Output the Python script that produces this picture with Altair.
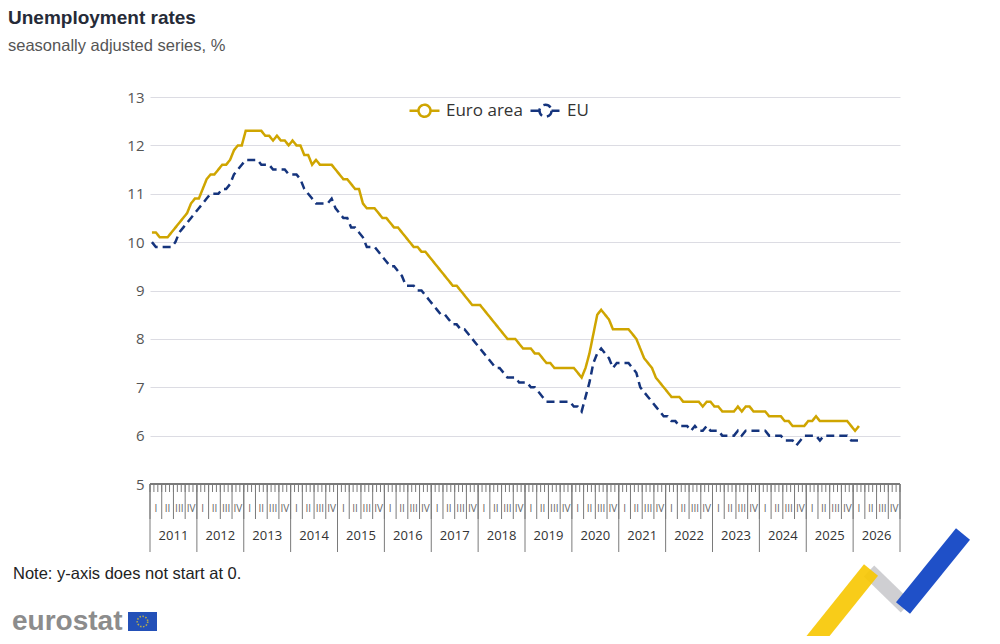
import altair as alt
import pandas as pd

# ---------------- data ----------------
start_year = 2011
years = list(range(2011, 2027))
quarter_labels = ["I", "II", "III", "IV"]
y_ticks = [5, 6, 7, 8, 9, 10, 11, 12, 13]
series_names = ["Euro area", "EU"]

ea_values = [
    10.2, 10.2, 10.1, 10.1, 10.1, 10.2, 10.3, 10.4, 10.5, 10.6, 10.8, 10.9,  # 2011
    10.9, 11.1, 11.3, 11.4, 11.4, 11.5, 11.6, 11.6, 11.7, 11.9, 12.0, 12.0,  # 2012
    12.3, 12.3, 12.3, 12.3, 12.3, 12.2, 12.2, 12.1, 12.2, 12.1, 12.1, 12.0,  # 2013
    12.1, 12.0, 12.0, 11.8, 11.8, 11.6, 11.7, 11.6, 11.6, 11.6, 11.6, 11.5,  # 2014
    11.4, 11.3, 11.3, 11.2, 11.1, 11.1, 10.8, 10.7, 10.7, 10.7, 10.6, 10.5,  # 2015
    10.5, 10.4, 10.3, 10.3, 10.2, 10.1, 10.0, 9.9, 9.9, 9.8, 9.8, 9.7,       # 2016
    9.6, 9.5, 9.4, 9.3, 9.2, 9.1, 9.1, 9.0, 8.9, 8.8, 8.7, 8.7,              # 2017
    8.7, 8.6, 8.5, 8.4, 8.3, 8.2, 8.1, 8.0, 8.0, 8.0, 7.9, 7.8,              # 2018
    7.8, 7.8, 7.7, 7.7, 7.6, 7.5, 7.5, 7.4, 7.4, 7.4, 7.4, 7.4,              # 2019
    7.4, 7.3, 7.2, 7.4, 7.7, 8.1, 8.5, 8.6, 8.5, 8.4, 8.2, 8.2,              # 2020
    8.2, 8.2, 8.2, 8.1, 8.0, 7.8, 7.6, 7.5, 7.4, 7.2, 7.1, 7.0,              # 2021
    6.9, 6.8, 6.8, 6.8, 6.7, 6.7, 6.7, 6.7, 6.7, 6.6, 6.7, 6.7,              # 2022
    6.6, 6.6, 6.5, 6.5, 6.5, 6.5, 6.6, 6.5, 6.6, 6.6, 6.5, 6.5,              # 2023
    6.5, 6.5, 6.4, 6.4, 6.4, 6.4, 6.3, 6.3, 6.2, 6.2, 6.2, 6.2,              # 2024
    6.3, 6.3, 6.4, 6.3, 6.3, 6.3, 6.3, 6.3, 6.3, 6.3, 6.3, 6.2,              # 2025
    6.1, 6.2,                                                                # 2026
]

eu_values = [
    10.0, 9.9, 9.9, 9.9, 9.9, 9.9, 10.0, 10.2, 10.3, 10.4, 10.5, 10.6,       # 2011
    10.7, 10.8, 10.9, 11.0, 11.0, 11.0, 11.1, 11.1, 11.2, 11.4, 11.5, 11.6,  # 2012
    11.7, 11.7, 11.7, 11.7, 11.6, 11.6, 11.6, 11.5, 11.5, 11.5, 11.5, 11.4,  # 2013
    11.4, 11.4, 11.3, 11.1, 11.0, 10.9, 10.8, 10.8, 10.8, 10.8, 10.9, 10.7,  # 2014
    10.6, 10.5, 10.5, 10.3, 10.3, 10.2, 10.1, 9.9, 9.9, 9.9, 9.8, 9.7,       # 2015
    9.6, 9.5, 9.5, 9.4, 9.3, 9.1, 9.1, 9.1, 9.0, 9.0, 8.9, 8.8,              # 2016
    8.7, 8.6, 8.5, 8.5, 8.4, 8.3, 8.3, 8.2, 8.2, 8.1, 8.0, 7.9,              # 2017
    7.8, 7.7, 7.6, 7.5, 7.4, 7.4, 7.3, 7.2, 7.2, 7.2, 7.1, 7.1,              # 2018
    7.1, 7.0, 7.0, 6.9, 6.8, 6.7, 6.7, 6.7, 6.7, 6.7, 6.7, 6.7,              # 2019
    6.6, 6.6, 6.5, 6.8, 7.1, 7.5, 7.7, 7.8, 7.7, 7.6, 7.4, 7.5,              # 2020
    7.5, 7.5, 7.5, 7.4, 7.3, 7.0, 6.9, 6.8, 6.7, 6.6, 6.5, 6.4,              # 2021
    6.4, 6.3, 6.3, 6.2, 6.2, 6.2, 6.1, 6.2, 6.1, 6.1, 6.2, 6.1,              # 2022
    6.1, 6.1, 6.0, 6.0, 6.0, 6.0, 6.1, 6.0, 6.1, 6.1, 6.1, 6.1,              # 2023
    6.1, 6.1, 6.0, 6.0, 6.0, 6.0, 5.9, 5.9, 5.9, 5.8, 5.9, 6.0,              # 2024
    6.0, 6.0, 6.0, 5.9, 6.0, 6.0, 6.0, 6.0, 6.0, 6.0, 6.0, 5.9,              # 2025
    5.9, 5.9,                                                                # 2026
]

# ---------------- tables ----------------
n = len(ea_values)
t_mid = [start_year + (i + 0.5) / 12 for i in range(n)]
df = pd.DataFrame({
    "t": t_mid + t_mid,
    "value": ea_values + eu_values,
    "series": [series_names[0]] * n + [series_names[1]] * n,
})

n_months = len(years) * 12
month_df = pd.DataFrame({"t": [start_year + k / 12 for k in range(n_months + 1)]})
quarter_df = pd.DataFrame({"t": [start_year + k / 4 for k in range(len(years) * 4 + 1)]})
year_df = pd.DataFrame({"t": [y for y in years] + [years[-1] + 1]})
qlab_df = pd.DataFrame({
    "t": [y + (q + 0.5) / 4 for y in years for q in range(4)],
    "label": [quarter_labels[q] for y in years for q in range(4)],
})
ylab_df = pd.DataFrame({"t": [y + 0.5 for y in years], "label": [str(y) for y in years]})

W, H = 750, 387
GOLD = "#CFA500"
NAVY = "#15347D"
AX = "#7a7a7a"

xscale = alt.Scale(domain=[years[0], years[-1] + 1], nice=False, zero=False)
yscale = alt.Scale(domain=[y_ticks[0], y_ticks[-1]], nice=False, zero=False)

# legend symbol: short line with a hollow circle
sym_path = ("M-0.667,0H-0.067M0.733,0H1.333"
            "M0.733,0A0.4,0.4,0,1,1,-0.067,0A0.4,0.4,0,1,1,0.733,0")

legend = alt.Legend(
    title=None, orient="none", legendX=253, legendY=-3, direction="horizontal",
    symbolType=sym_path, symbolSize=900, symbolStrokeWidth=2.5, symbolFillColor="white",
    labelFontSize=17, labelColor="#333333", labelFont="Open Sans",
    labelOffset=10, columnPadding=1, padding=0,
)

lines = alt.Chart(df).mark_line(strokeWidth=2.5, strokeCap="butt").encode(
    x=alt.X("t:Q", scale=xscale, axis=None),
    y=alt.Y("value:Q", scale=yscale, axis=alt.Axis(
        values=y_ticks, title=None, domain=False, ticks=False, labelPadding=6,
        labelFontSize=15, labelColor="#555555", labelFont="Open Sans",
        gridColor="#dcdce3", gridWidth=1)),
    color=alt.Color("series:N", scale=alt.Scale(domain=series_names, range=[GOLD, NAVY]), legend=legend),
    strokeDash=alt.StrokeDash("series:N", scale=alt.Scale(domain=series_names, range=[[1, 0], [8, 5]]), legend=legend),
)

baseline = alt.Chart(month_df).mark_rule(color=AX, strokeWidth=1).encode(
    x=alt.value(0), x2=alt.value(W), y=alt.value(H)
)
month_ticks = alt.Chart(month_df).mark_rule(color=AX, strokeWidth=1).encode(
    x=alt.X("t:Q", scale=xscale, axis=None), y=alt.value(H), y2=alt.value(H + 8)
)
quarter_ticks = alt.Chart(quarter_df).mark_rule(color=AX, strokeWidth=1).encode(
    x=alt.X("t:Q", scale=xscale, axis=None), y=alt.value(H), y2=alt.value(H + 35)
)
year_ticks = alt.Chart(year_df).mark_rule(color=AX, strokeWidth=1).encode(
    x=alt.X("t:Q", scale=xscale, axis=None), y=alt.value(H), y2=alt.value(H + 68)
)
q_text = alt.Chart(qlab_df).mark_text(fontSize=10, color="#666666", font="Open Sans", baseline="middle").encode(
    x=alt.X("t:Q", scale=xscale, axis=None), y=alt.value(H + 25), text="label:N"
)
y_text = alt.Chart(ylab_df).mark_text(fontSize=13, color="#333333", font="Open Sans", baseline="middle").encode(
    x=alt.X("t:Q", scale=xscale, axis=None), y=alt.value(H + 52), text="label:N"
)

one = pd.DataFrame({"a": [0]})


def label(txt, x, y, size, color, weight="normal", font="Liberation Sans"):
    return alt.Chart(one).mark_text(
        text=txt, align="left", baseline="alphabetic", fontSize=size,
        color=color, fontWeight=weight, font=font
    ).encode(x=alt.value(x), y=alt.value(y))


title = label("Unemployment rates", -142, -73, 19, "#262b38", "bold")
subtitle = label("seasonally adjusted series, %", -142, -46, 16.5, "#555555")
note = label("Note: y-axis does not start at 0.", -137, 482, 16.5, "#222222")
logo = label("eurostat", -138, 533, 28, "#8c8c8c", "bold")

flag = alt.Chart(one).mark_rect(color="#2350b8").encode(
    x=alt.value(-22), x2=alt.value(7), y=alt.value(515), y2=alt.value(534)
)
stars = alt.Chart(one).mark_point(
    shape="circle", size=110, filled=False, color="#f4d21f", strokeWidth=1.6, strokeDash=[1.5, 1.5]
).encode(x=alt.value(-7.5), y=alt.value(524.5))

stripe_y = alt.Chart(one).mark_rule(color="#F7C600", strokeWidth=18, strokeCap="butt", opacity=0.9).encode(
    x=alt.value(660), x2=alt.value(721), y=alt.value(549), y2=alt.value(473)
)
stripe_g = alt.Chart(one).mark_rule(color="#cfcfd2", strokeWidth=15, strokeCap="butt").encode(
    x=alt.value(719), x2=alt.value(756), y=alt.value(474), y2=alt.value(510)
)
stripe_b = alt.Chart(one).mark_rule(color="#1f50c8", strokeWidth=18, strokeCap="butt").encode(
    x=alt.value(753), x2=alt.value(813), y=alt.value(511), y2=alt.value(437)
)

chart = alt.layer(
    lines, baseline, month_ticks, quarter_ticks, year_ticks, q_text, y_text,
    title, subtitle, note, logo, flag, stars, stripe_g, stripe_y, stripe_b,
).properties(
    width=W, height=H,
    background="white",
    autosize=alt.AutoSizeParams(type="none"),
    padding={"left": 142, "top": 89, "right": 84, "bottom": 152},
).configure_view(stroke=None)

chart.save("out.html", embed_options={"renderer": "svg", "actions": False})
